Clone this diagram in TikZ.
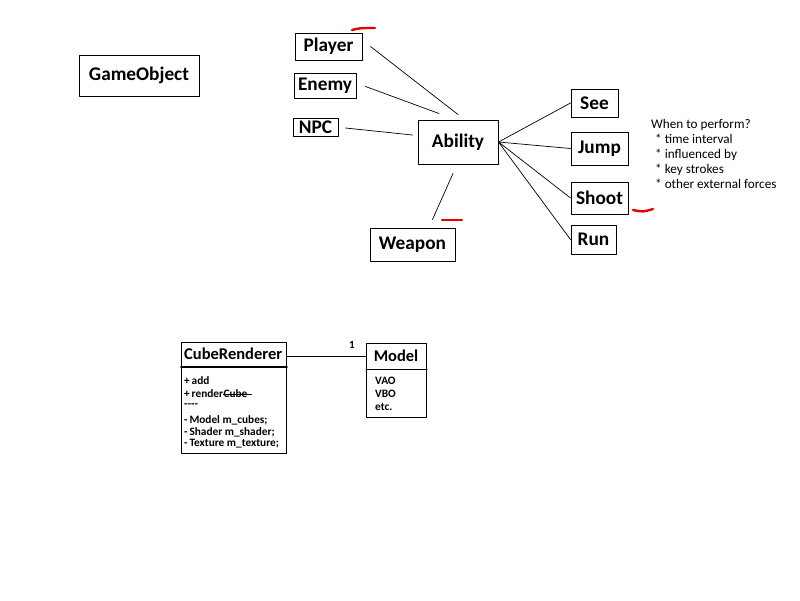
\documentclass[tikz,border=0pt]{standalone}
\usepackage{fontspec}
\setmainfont{Carlito}
\usetikzlibrary{calc}
\begin{document}
\begin{tikzpicture}[x=1pt, y=-1pt, line join=round, line cap=round,
	box/.style={draw, line width=1pt, inner sep=0pt, font=\bfseries\fontsize{19.3}{22}\selectfont},
	link/.style={line width=0.7pt},
	redmark/.style={draw=red!90!black, line width=2.4pt},
	member/.style={anchor=west, inner sep=0pt, font=\bfseries\fontsize{11.3}{12}\selectfont}]
	\useasboundingbox (0,0) rectangle (800,600);
	\node[box, minimum width=120, minimum height=41] (gameobject) at (139,75.5) {GameObject};
	\node[box, minimum width=67, minimum height=27] (player) at (328.5,46.5) {Player};
	\node[box, minimum width=62, minimum height=25] (enemy) at (325,85.5) {Enemy};
	\node[box, minimum width=45, minimum height=18] (npc) at (315.5,127) {NPC};
	\node[box, minimum width=80, minimum height=44] (ability) at (458,142) {Ability};
	\node[box, minimum width=85, minimum height=33] (weapon) at (412.5,244.5) {Weapon};
	\node[box, minimum width=47, minimum height=28] (see) at (594.5,103) {See};
	\node[box, minimum width=57, minimum height=33] (jump) at (599.5,148.5) {Jump};
	\node[box, minimum width=57, minimum height=32] (shoot) at (599.5,198) {Shoot};
	\node[box, minimum width=45, minimum height=29] (run) at (593.5,239.5) {Run};
	\draw[link] ($(player.east)+(8,0)$) -- ($(ability.north)+(0,-5)$);
	\draw[link] ($(enemy.east)+(9,1)$) -- ($(ability.north)+(-19,-6)$);
	\draw[link] ($(npc.east)+(7,1)$) -- ($(ability.west)+(-5,-7)$);
	\draw[link] ($(ability.south)+(-5,9)$) -- ($(weapon.north)+(20,-8)$);
	\foreach \n in {see,jump,shoot,run}\draw[link] (ability.east) -- (\n.west);
	\node[anchor=north west, align=left, inner sep=0pt, font=\fontsize{13.2}{15}\selectfont] (note) at (651,119)
		{When to perform?\\\hspace*{4pt}* time interval\\\hspace*{4pt}* influenced by\\\hspace*{4pt}* key strokes\\\hspace*{4pt}* other external forces};
	\draw[redmark] (352,30) .. controls (360,28) .. (375,28);
	\draw[redmark] (442,220) -- (462,220);
	\draw[redmark] (633,210) .. controls (643,212) .. (653,209);
	\node[draw, line width=1pt, minimum width=105, minimum height=111, anchor=north west, inner sep=0pt] (cuberenderer) at (181,342) {};
	\node[anchor=west, inner sep=0pt, font=\bfseries\fontsize{16.5}{18}\selectfont] (crname) at (184,354) {CubeRenderer};
	\draw[line width=1.8pt] ($(cuberenderer.north west)+(0,25)$) -- ($(cuberenderer.north east)+(0,25)$);
	\foreach \y/\t in {381/+\,add, 406/{-}{-}{-}{-}, 420/-\,Model m\_cubes;, 432/-\,Shader m\_shader;, 444/-\,Texture m\_texture;}
		\node[member] at (184,\y) {\t};
	\node[member] (render) at (184,394) {+\,render};
	\node[member] (cube) at (render.east) {Cube};
	\draw[line width=0.7pt] ($(cube.west)+(0,0.5)$) -- ($(cube.east)+(4,0.5)$);
	\node[draw, line width=1pt, minimum width=60, minimum height=74, anchor=north west, inner sep=0pt] (model) at (366,343) {};
	\node[inner sep=0pt, font=\bfseries\fontsize{16.5}{18}\selectfont] (mname) at (396,356) {Model};
	\draw[line width=1pt] ($(model.north west)+(0,26)$) -- ($(model.north east)+(0,26)$);
	\foreach \y/\t in {381/VAO, 394/VBO, 407/etc.}
		\node[member] at (375,\y) {\t};
	\draw[link] ($(cuberenderer.north east)+(0,14)$) -- ($(model.north west)+(0,13)$);
	\node[inner sep=0pt, font=\bfseries\fontsize{11}{12}\selectfont] (one) at (352,345) {1};
\end{tikzpicture}
\end{document}
